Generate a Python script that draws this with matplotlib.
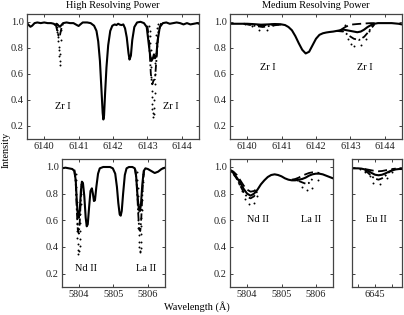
import matplotlib
matplotlib.use("Agg")
import matplotlib.pyplot as plt
from matplotlib.ticker import FixedLocator, NullFormatter

plt.rcParams['font.family'] = ['Liberation Serif', 'DejaVu Serif']

GAP = float('nan')  # break between separate line windows

# ---------------- data: High resolving power, Zr I region ----------------
tl_wl = [6139.50, 6139.55, 6139.60, 6139.65, 6139.72, 6139.80, 6139.90, 6140.00, 6140.10, 6140.20,
         6140.28, 6140.32, 6140.36, 6140.42, 6140.46, 6140.50, 6140.55, 6140.65, 6140.75, 6140.85,
         6140.95, 6141.00, 6141.05, 6141.12, 6141.25, 6141.35, 6141.45, 6141.52, 6141.57, 6141.62,
         6141.66, 6141.70, 6141.72, 6141.74, 6141.77, 6141.81, 6141.86, 6141.92, 6141.98, 6142.05,
         6142.10, 6142.15, 6142.20, 6142.25, 6142.30, 6142.35, 6142.40, 6142.45, 6142.48, 6142.52,
         6142.56, 6142.62, 6142.70, 6142.80, 6142.90, 6142.98, 6143.03, 6143.08, 6143.12, 6143.16,
         6143.19, 6143.22, 6143.26, 6143.30, 6143.36, 6143.45, 6143.55, 6143.65, 6143.75, 6143.85,
         6143.95, 6144.05, 6144.15, 6144.25, 6144.35, 6144.45, 6144.50]
tl_solid = [0.99, 0.975, 0.962, 0.97, 0.99, 0.995, 0.99, 0.995, 0.99, 0.99,
            0.985, 0.975, 0.985, 0.97, 0.962, 0.975, 0.99, 0.995, 0.99, 0.99,
            0.975, 0.968, 0.98, 0.995, 0.995, 0.99, 0.97, 0.93, 0.85, 0.70,
            0.50, 0.30, 0.25, 0.28, 0.45, 0.65, 0.82, 0.93, 0.97, 0.98,
            0.975, 0.985, 0.978, 0.975, 0.98, 0.95, 0.88, 0.76, 0.71, 0.74,
            0.86, 0.96, 0.995, 1.0, 0.99, 0.96, 0.85, 0.74, 0.70, 0.72,
            0.75, 0.72, 0.74, 0.86, 0.96, 0.99, 0.995, 0.985, 0.99, 0.995,
            0.99, 0.98, 0.99, 0.98, 0.985, 0.99, 0.985]
tl_dd_wl = [6140.33, 6140.38, 6140.42, 6140.46, 6140.50, 6140.55, GAP,
            6143.00, 6143.05, 6143.10, 6143.14, 6143.18, 6143.22, 6143.26, 6143.32, 6143.40]
tl_dd = [0.985, 0.93, 0.89, 0.90, 0.95, 0.99, GAP,
         0.97, 0.85, 0.60, 0.52, 0.55, 0.56, 0.70, 0.92, 0.99]
tl_dot_wl = [6140.36, 6140.37, 6140.38, 6140.38, 6140.39, 6140.39, 6140.41, 6140.42, 6140.43,
             6140.44, 6140.45, 6140.46, 6140.47, 6140.48, 6140.50,
             6143.06, 6143.07, 6143.08, 6143.09, 6143.10, 6143.10, 6143.11, 6143.11, 6143.12,
             6143.12, 6143.13, 6143.13, 6143.14, 6143.15, 6143.17, 6143.19, 6143.20, 6143.20,
             6143.21, 6143.21, 6143.22, 6143.23, 6143.24, 6143.25, 6143.26, 6143.28, 6143.30]
tl_dot = [0.98, 0.96, 0.94, 0.92, 0.90, 0.88, 0.85, 0.81, 0.78,
          0.74, 0.70, 0.67, 0.75, 0.86, 0.94,
          0.97, 0.93, 0.89, 0.84, 0.78, 0.72, 0.65, 0.58, 0.53,
          0.47, 0.42, 0.37, 0.33, 0.30, 0.27, 0.29, 0.34, 0.40,
          0.45, 0.52, 0.60, 0.68, 0.76, 0.84, 0.90, 0.95, 0.98]

# ---------------- data: Medium resolving power, Zr I region ----------------
tr_wl = [6139.5, 6139.8, 6140.0, 6140.2, 6140.4, 6140.6, 6140.8, 6141.0, 6141.1, 6141.2,
         6141.3, 6141.4, 6141.5, 6141.6, 6141.7, 6141.8, 6141.9, 6142.0, 6142.1, 6142.2,
         6142.3, 6142.4, 6142.5, 6142.6, 6142.7, 6142.8, 6142.9, 6143.0, 6143.1, 6143.2,
         6143.3, 6143.4, 6143.5, 6143.6, 6143.7, 6143.8, 6144.0, 6144.2, 6144.4, 6144.5]
tr_solid = [0.985, 0.985, 0.985, 0.982, 0.978, 0.98, 0.983, 0.98, 0.975, 0.96,
            0.935, 0.89, 0.835, 0.785, 0.757, 0.77, 0.82, 0.87, 0.90, 0.912,
            0.918, 0.922, 0.925, 0.93, 0.935, 0.94, 0.935, 0.93, 0.925, 0.92,
            0.925, 0.94, 0.96, 0.975, 0.985, 0.99, 0.99, 0.99, 0.985, 0.98]
tr_dash_wl = [6139.9, 6140.2, 6140.45, 6140.7, 6141.0, GAP,
              6142.7, 6142.85, 6143.0, 6143.2, 6143.4, 6143.6, 6143.8]
tr_dash = [0.985, 0.978, 0.972, 0.978, 0.98, GAP,
           0.935, 0.96, 0.978, 0.983, 0.987, 0.99, 0.99]
tr_dd_wl = [6139.9, 6140.2, 6140.45, 6140.7, 6141.0, GAP,
            6142.6, 6142.8, 6142.95, 6143.1, 6143.25, 6143.4, 6143.5, 6143.6, 6143.7]
tr_dd = [0.985, 0.97, 0.96, 0.97, 0.98, GAP,
         0.93, 0.925, 0.895, 0.87, 0.86, 0.885, 0.915, 0.95, 0.98]
tr_dot_wl = [6139.95, 6140.14, 6140.33, 6140.57, 6140.74, 6140.95,
             6142.84, 6142.94, 6143.03, 6143.10, 6143.30, 6143.44, 6143.55, 6143.62]
tr_dot = [0.985, 0.97, 0.94, 0.94, 0.972, 0.985,
          0.975, 0.867, 0.83, 0.815, 0.825, 0.87, 0.93, 0.97]

# ---------------- data: High resolving power, Nd II / La II region ----------------
bl_wl = [5803.50, 5803.60, 5803.70, 5803.80, 5803.86, 5803.90, 5803.93, 5803.96, 5803.99, 5804.02,
         5804.05, 5804.08, 5804.11, 5804.15, 5804.19, 5804.22, 5804.25, 5804.29, 5804.33, 5804.37,
         5804.40, 5804.43, 5804.46, 5804.50, 5804.55, 5804.60, 5804.70, 5804.80, 5804.90, 5804.98,
         5805.05, 5805.10, 5805.14, 5805.18, 5805.21, 5805.24, 5805.28, 5805.33, 5805.38, 5805.45,
         5805.55, 5805.62, 5805.66, 5805.70, 5805.74, 5805.77, 5805.80, 5805.84, 5805.88, 5805.93,
         5806.00, 5806.10, 5806.20, 5806.30, 5806.40, 5806.50]
bl_solid = [0.99, 0.995, 0.99, 0.985, 0.97, 0.90, 0.75, 0.64, 0.62, 0.68,
            0.82, 0.89, 0.88, 0.78, 0.62, 0.555, 0.57, 0.70, 0.82, 0.84,
            0.80, 0.745, 0.75, 0.85, 0.95, 0.99, 1.0, 1.0, 1.0, 0.99,
            0.95, 0.85, 0.73, 0.645, 0.635, 0.67, 0.80, 0.94, 0.99, 1.0,
            1.0, 0.99, 0.93, 0.78, 0.68, 0.67, 0.72, 0.87, 0.97, 0.99,
            0.985, 0.97, 0.955, 0.965, 0.985, 0.995]
bl_dd_wl = [5803.86, 5803.90, 5803.93, 5803.96, 5803.99, 5804.02, 5804.05, 5804.08, GAP,
            5805.64, 5805.68, 5805.72, 5805.75, 5805.78, 5805.81, 5805.85, 5805.89]
bl_dd = [0.98, 0.88, 0.68, 0.53, 0.50, 0.60, 0.78, 0.89, GAP,
         0.98, 0.86, 0.65, 0.53, 0.52, 0.62, 0.85, 0.97]
bl_dot_wl = [5803.90, 5803.91, 5803.92, 5803.92, 5803.93, 5803.93, 5803.94, 5803.94, 5803.95,
             5803.95, 5803.96, 5803.97, 5803.98, 5804.00, 5804.01, 5804.01, 5804.02, 5804.02,
             5804.03, 5804.04, 5804.05, 5804.06,
             5805.68, 5805.69, 5805.70, 5805.70, 5805.71, 5805.71, 5805.72, 5805.72, 5805.73,
             5805.74, 5805.75, 5805.76, 5805.78, 5805.79, 5805.80, 5805.80, 5805.81, 5805.81,
             5805.82, 5805.83, 5805.84, 5805.85, 5805.87]
bl_dot = [0.95, 0.90, 0.85, 0.80, 0.74, 0.68, 0.62, 0.57, 0.52,
          0.47, 0.42, 0.38, 0.35, 0.37, 0.41, 0.46, 0.52, 0.58,
          0.65, 0.72, 0.80, 0.87,
          0.96, 0.90, 0.84, 0.78, 0.72, 0.66, 0.60, 0.54, 0.49,
          0.44, 0.40, 0.37, 0.36, 0.39, 0.44, 0.50, 0.56, 0.62,
          0.68, 0.75, 0.82, 0.89, 0.95]

# ---------------- data: Medium resolving power, Nd II / La II region ----------------
bm_wl = [5803.5, 5803.6, 5803.7, 5803.8, 5803.9, 5804.0, 5804.1, 5804.2, 5804.3, 5804.4,
         5804.5, 5804.6, 5804.7, 5804.8, 5804.9, 5805.0, 5805.1, 5805.2, 5805.3, 5805.4,
         5805.5, 5805.6, 5805.7, 5805.8, 5805.9, 5806.0, 5806.1, 5806.2, 5806.3, 5806.4, 5806.5]
bm_solid = [0.975, 0.955, 0.92, 0.88, 0.835, 0.80, 0.785, 0.80, 0.83, 0.87,
            0.90, 0.925, 0.94, 0.945, 0.94, 0.93, 0.915, 0.905, 0.90, 0.90,
            0.905, 0.91, 0.92, 0.935, 0.945, 0.95, 0.95, 0.945, 0.935, 0.925, 0.915]
bm_dash_wl = [5803.5, 5803.6, 5803.7, 5803.8, 5803.9, 5804.0, 5804.1, 5804.2, 5804.3, GAP,
              5805.3, 5805.4, 5805.5, 5805.6, 5805.7, 5805.8, 5805.9, 5806.0, 5806.1]
bm_dash = [0.98, 0.965, 0.94, 0.90, 0.86, 0.83, 0.815, 0.82, 0.84, GAP,
           0.905, 0.91, 0.92, 0.935, 0.945, 0.955, 0.96, 0.96, 0.955]
bm_dd_wl = [5803.6, 5803.7, 5803.8, 5803.9, 5804.0, 5804.1, 5804.2, 5804.3, GAP,
            5805.5, 5805.6, 5805.7, 5805.8, 5805.9]
bm_dd = [0.95, 0.91, 0.86, 0.81, 0.775, 0.765, 0.78, 0.82, GAP,
         0.895, 0.885, 0.875, 0.88, 0.91]
bm_dot_wl = [5803.62, 5803.75, 5803.85, 5803.95, 5804.05, 5804.2, 5804.3,
             5805.45, 5805.6, 5805.75, 5805.9, 5806.05]
bm_dot = [0.94, 0.87, 0.82, 0.76, 0.72, 0.73, 0.78,
          0.90, 0.85, 0.83, 0.84, 0.90]

# ---------------- data: Medium resolving power, Eu II region ----------------
br_wl = [6644.33, 6644.5, 6644.6, 6644.7, 6644.8, 6644.9, 6645.0, 6645.1, 6645.2, 6645.3,
         6645.4, 6645.5, 6645.6, 6645.7, 6645.78]
br_solid = [0.99, 0.99, 0.988, 0.982, 0.97, 0.955, 0.942, 0.938, 0.942, 0.952,
            0.965, 0.975, 0.982, 0.985, 0.985]
br_dash_wl = [6644.7, 6644.8, 6644.9, 6645.0, 6645.1, 6645.2, 6645.3, 6645.4, 6645.5, 6645.6]
br_dash = [0.985, 0.98, 0.975, 0.97, 0.968, 0.97, 0.975, 0.98, 0.985, 0.988]
br_dd_wl = [6644.7, 6644.8, 6644.9, 6645.0, 6645.1, 6645.2, 6645.3, 6645.4, 6645.5]
br_dd = [0.975, 0.955, 0.93, 0.912, 0.905, 0.915, 0.935, 0.96, 0.978]
br_dot_wl = [6644.55, 6644.7, 6644.85, 6644.95, 6645.15, 6645.35, 6645.5]
br_dot = [0.985, 0.96, 0.93, 0.88, 0.875, 0.92, 0.96]

labels_tl = [("Zr I", 6140.55, 0.35), ("Zr I", 6143.68, 0.35)]
labels_tr = [("Zr I", 6140.6, 0.65), ("Zr I", 6143.43, 0.65)]
labels_bl = [("Nd II", 5804.2, 0.24), ("La II", 5805.96, 0.24)]
labels_bm = [("Nd II", 5804.33, 0.61), ("La II", 5805.85, 0.61)]
labels_br = [("Eu II", 6645.03, 0.61)]

yticks = [0.2, 0.4, 0.6, 0.8, 1.0]

# ---------------- figure ----------------
W, H = 404, 315
fig = plt.figure(figsize=(W / 100, H / 100), dpi=100)


def mk(x0, y0, x1, y1):
    return fig.add_axes([x0 / W, 1 - y1 / H, (x1 - x0) / W, (y1 - y0) / H])


fs = 7.4
axes_spec = [
    (mk(27, 14, 199, 139), (6139.5, 6144.5), [6140, 6141, 6142, 6143, 6144], None, True),
    (mk(230, 14, 402, 139), (6139.5, 6144.5), [6140, 6141, 6142, 6143, 6144], None, True),
    (mk(62, 159, 165, 287), (5803.5, 5806.5), [5804, 5805, 5806], None, True),
    (mk(230, 159, 333, 287), (5803.5, 5806.5), [5804, 5805, 5806], None, True),
    (mk(352, 159, 402, 287), (6644.33, 6645.78), [6644.5, 6645, 6645.5], ["", "6645", ""], False),
]

data = [
    (tl_wl, tl_solid, None, None, tl_dd_wl, tl_dd, tl_dot_wl, tl_dot, labels_tl),
    (tr_wl, tr_solid, tr_dash_wl, tr_dash, tr_dd_wl, tr_dd, tr_dot_wl, tr_dot, labels_tr),
    (bl_wl, bl_solid, None, None, bl_dd_wl, bl_dd, bl_dot_wl, bl_dot, labels_bl),
    (bm_wl, bm_solid, bm_dash_wl, bm_dash, bm_dd_wl, bm_dd, bm_dot_wl, bm_dot, labels_bm),
    (br_wl, br_solid, br_dash_wl, br_dash, br_dd_wl, br_dd, br_dot_wl, br_dot, labels_br),
]

for (ax, xl, xt, xtl, ylab), d in zip(axes_spec, data):
    wl, so, dw, da, ddw, dd, tw, to, labs = d
    ax.plot(wl, so, color='black', lw=1.5, solid_joinstyle='round')
    if dw is not None:
        ax.plot(dw, da, color='black', lw=1.3, linestyle=(0, (5, 2.5)))
    ax.plot(ddw, dd, color='black', lw=1.3, linestyle=(0, (4, 1.5, 1, 1.5)))
    ax.plot(tw, to, linestyle='none', marker='o', markersize=1.4, color='black', markeredgewidth=0)
    for t, x, y in labs:
        ax.text(x, y, t, ha='center', va='center', fontsize=fs)
    ax.set_xlim(*xl)
    ax.set_ylim(0.1, 1.06)
    ax.xaxis.set_major_locator(FixedLocator(xt))
    if xtl is not None:
        ax.set_xticklabels(xtl)
    ax.yaxis.set_major_locator(FixedLocator(yticks))
    if ylab:
        ax.set_yticklabels([f"{v:.1f}" for v in yticks])
    else:
        ax.yaxis.set_major_formatter(NullFormatter())
    ax.tick_params(direction='in', top=True, right=True, length=2, width=0.6,
                   labelsize=fs, pad=2.5, colors='#222222')
    for s in ax.spines.values():
        s.set_linewidth(0.9)
        s.set_color('#444444')

fig.text(113 / W, 1 - 6 / H, "High Resolving Power", ha='center', va='center', fontsize=fs)
fig.text(316 / W, 1 - 6 / H, "Medium Resolving Power", ha='center', va='center', fontsize=fs)
fig.text(6 / W, 1 - 150 / H, "Intensity", ha='center', va='center', rotation=90, fontsize=fs)
fig.text(197 / W, 1 - 307 / H, "Wavelength (Å)", ha='center', va='center', fontsize=fs)

fig.savefig("out.png", dpi=100)
